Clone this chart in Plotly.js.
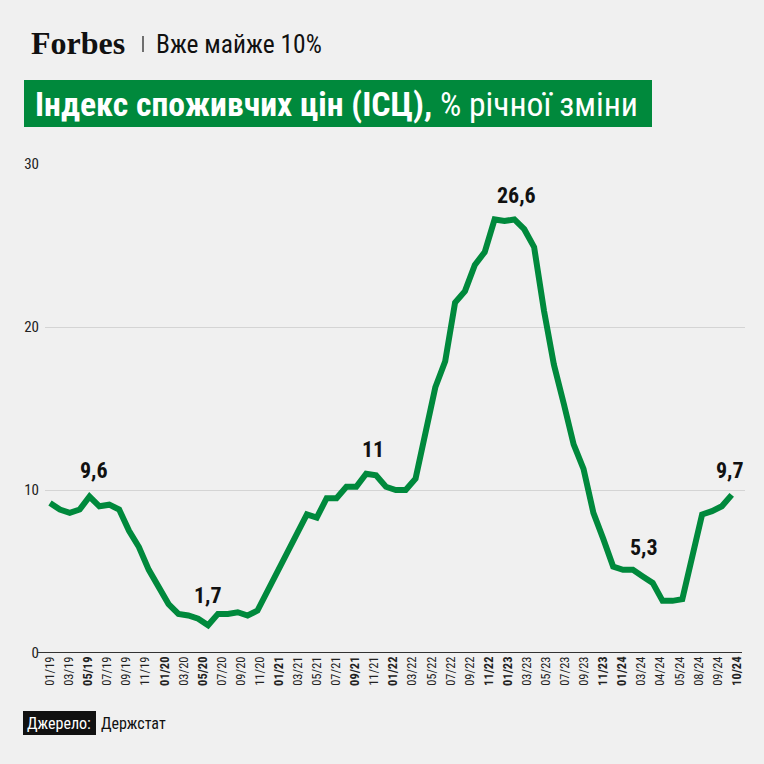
<!DOCTYPE html>
<html>
<head>
<meta charset="utf-8">
<script src="https://cdn.plot.ly/plotly-3.0.1.min.js"></script>
<style>
  html, body { margin: 0; padding: 0; background: #f0f0f0; }
  #chart { width: 764px; height: 764px; }
</style>
</head>
<body>
<div id="chart"></div>
<script>
// ---- Data ----
const cpiValues = [
  9.2, 8.8, 8.6, 8.8, 9.6, 9.0, 9.1, 8.8, 7.5, 6.5, 5.1, 4.0,
  3.0, 2.4, 2.3, 2.1, 1.7, 2.4, 2.4, 2.5, 2.3, 2.6, 3.8, 5.0,
  6.0, 7.4, 8.5, 8.3, 9.5, 9.5, 10.2, 10.2, 11.0, 10.9, 10.2, 10.0,
  10.0, 10.7, 13.7, 16.3, 17.9, 21.5, 22.2, 23.8, 24.6, 26.6, 26.5, 26.6,
  26.0, 24.9, 21.0, 17.7, 15.3, 12.8, 11.3, 8.6, 7.0, 5.3, 5.1, 5.1,
  4.7, 4.3, 3.2, 3.2, 3.3, 5.9, 8.5, 8.7, 9.0, 9.7
];
const tickLabels = [
  "01/19","03/19","05/19","07/19","09/19","11/19","01/20","03/20","05/20","07/20",
  "09/20","11/20","01/21","03/21","05/21","07/21","09/21","11/21","01/22","03/22",
  "05/22","07/22","09/22","11/22","01/23","03/23","05/23","07/23","09/23","11/23",
  "01/24","03/24","04/24","05/24","08/24","09/24","10/24"
];
const boldTicks = ["05/19","01/20","05/20","01/21","09/21","01/22","11/22","01/23","11/23","01/24","10/24"];
const yTicks = [0, 10, 20, 30];
// labelled points: [index, text]
const callouts = [
  [4, "9,6"], [16, "1,7"], [32, "11"], [46, "26,6"], [60, "5,3"], [69, "9,7"]
];

// ---- Layout helpers (pixel geometry of the picture) ----
const L = 45, R = 745, T = 164, B = 653;
const W = R - L, H = B - T;
const px = p => (p - L) / W;
const py = p => (B - p) / H;

const FONT = "'Roboto Condensed', 'Liberation Sans Narrow', 'DejaVu Sans Condensed', 'Arial Narrow', Roboto, sans-serif";
const GREEN = "#00893c";

const xIdx = cpiValues.map((_, i) => i);
const tickVals = tickLabels.map((_, k) => k * 69.5 / 36);
const tickText = tickLabels.map(t => boldTicks.includes(t) ? "<b>" + t + "</b>" : t);

const calloutShift = {
  "9,6": [4, 12], "1,7": [0, 15], "11": [7, 10], "26,6": [12, 11], "5,3": [1, 14], "9,7": [-2, 10]
};

const annotations = callouts.map(([i, txt]) => ({
  x: i, y: cpiValues[i], xref: "x", yref: "y",
  text: "<b>" + txt + "</b>", showarrow: false,
  xanchor: "center", yanchor: "bottom",
  xshift: calloutShift[txt][0], yshift: calloutShift[txt][1],
  font: { family: FONT, size: 22, color: "#111" }
}));

annotations.push(
  { xref: "paper", yref: "paper", x: px(29), y: py(43), xanchor: "left", yanchor: "middle",
    text: "<b>Forbes</b>", showarrow: false,
    font: { family: "'Liberation Serif', 'DejaVu Serif', serif", size: 32, color: "#111" } },
  { xref: "paper", yref: "paper", x: px(154), y: py(44), xanchor: "left", yanchor: "middle",
    text: "Вже майже 10%", showarrow: false,
    font: { family: FONT, size: 25.5, color: "#111" } },
  { xref: "paper", yref: "paper", x: px(33), y: py(104), xanchor: "left", yanchor: "middle",
    text: "<b>Індекс споживчих цін (ІСЦ),</b> % річної зміни", showarrow: false,
    font: { family: FONT, size: 33.7, color: "#ffffff" } },
  { xref: "paper", yref: "paper", x: px(25), y: py(723), xanchor: "left", yanchor: "middle",
    text: "Джерело:", showarrow: false,
    font: { family: FONT, size: 16, color: "#ffffff" } },
  { xref: "paper", yref: "paper", x: px(99), y: py(723), xanchor: "left", yanchor: "middle",
    text: "Держстат", showarrow: false,
    font: { family: FONT, size: 16, color: "#111" } }
);

const shapes = [
  { type: "rect", xref: "paper", yref: "paper", x0: px(24), x1: px(652), y0: py(80), y1: py(127),
    fillcolor: GREEN, line: { width: 0 }, layer: "below" },
  { type: "line", xref: "paper", yref: "paper", x0: px(143), x1: px(143), y0: py(36), y1: py(52),
    line: { color: "#444", width: 1.5 } },
  { type: "rect", xref: "paper", yref: "paper", x0: px(23), x1: px(96), y0: py(711), y1: py(735),
    fillcolor: "#111", line: { width: 0 }, layer: "below" },
  { type: "line", xref: "paper", yref: "y", x0: px(37), x1: px(742), y0: 0, y1: 0,
    line: { color: "#333", width: 2 }, layer: "above" }
];

const trace = {
  x: xIdx, y: cpiValues, type: "scatter", mode: "lines",
  line: { color: GREEN, width: 6, shape: "linear" },
  hoverinfo: "skip"
};

const layout = {
  width: 764, height: 764,
  paper_bgcolor: "#f0f0f0", plot_bgcolor: "#f0f0f0",
  margin: { l: L, r: 764 - R, t: T, b: 764 - B, pad: 0 },
  showlegend: false,
  font: { family: FONT, color: "#222" },
  xaxis: {
    range: [(L - 50) / 9.88, (R - 50) / 9.88],
    tickmode: "array", tickvals: tickVals, ticktext: tickText,
    tickangle: -90, tickfont: { family: FONT, size: 12.5, color: "#222" },
    showgrid: false, zeroline: false, showline: false, ticks: "", fixedrange: true
  },
  yaxis: {
    range: [0, 30], tickmode: "array", tickvals: yTicks, ticktext: yTicks.map(String),
    tickfont: { family: FONT, size: 15, color: "#222" },
    showgrid: true, gridcolor: "#d4d4d4", gridwidth: 1,
    zeroline: false, showline: false, ticks: "", ticklabelstandoff: 5, fixedrange: true
  },
  annotations: annotations,
  shapes: shapes
};

Plotly.newPlot("chart", [trace], layout, { staticPlot: true, displayModeBar: false });
</script>
</body>
</html>
